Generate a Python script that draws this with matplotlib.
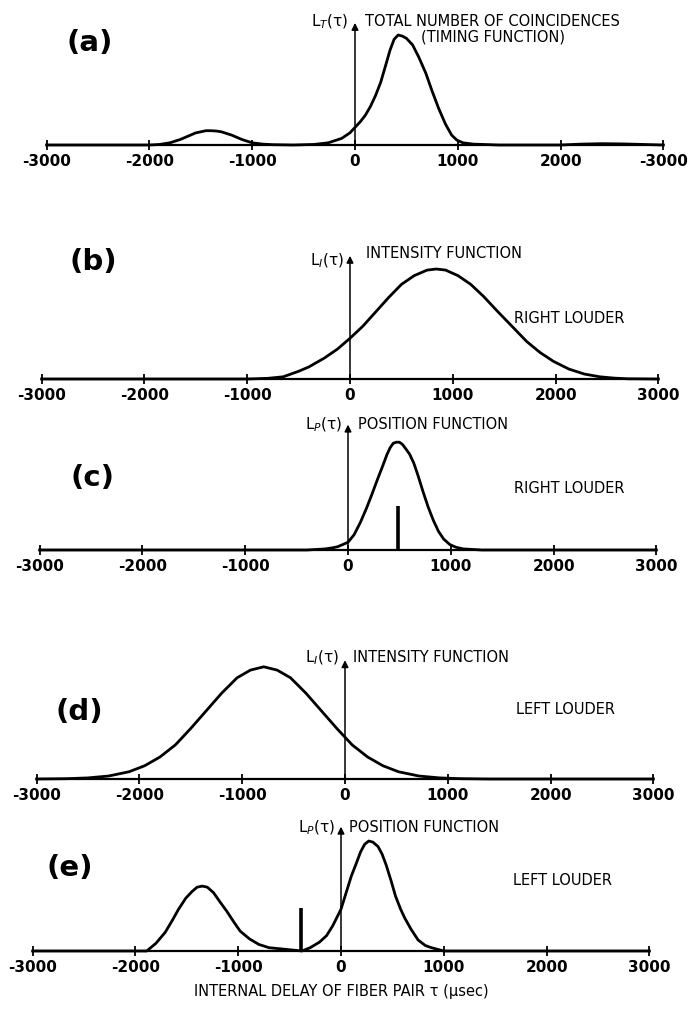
import matplotlib
matplotlib.use('Agg')
import matplotlib.pyplot as plt

# internal delay axis (usec)
ticks = [-3000, -2000, -1000, 0, 1000, 2000, 3000]
tick_labels_a = ['-3000', '-2000', '-1000', '0', '1000', '2000', '-3000']
tick_labels = ['-3000', '-2000', '-1000', '0', '1000', '2000', '3000']

# (a) timing function
x_a = [-3000, -2000, -1900, -1800, -1750, -1700, -1650, -1600, -1550, -1500,
       -1450, -1400, -1350, -1300, -1250, -1200, -1150, -1100, -1050, -1000,
       -900, -800, -600, -400, -260, -130, -50, 0, 50, 100,
       150, 200, 250, 300, 340, 380, 420, 460, 500, 560,
       620, 690, 750, 815, 880, 940, 990, 1050, 1150, 1400,
       2000, 2200, 2400, 2600, 2800, 3000]
y_a = [0, 0, 0.005, 0.02, 0.035, 0.05, 0.07, 0.09, 0.11, 0.12,
       0.13, 0.13, 0.127, 0.12, 0.105, 0.09, 0.07, 0.05, 0.035, 0.02,
       0.008, 0.003, 0, 0.005, 0.02, 0.06, 0.11, 0.16, 0.21, 0.27,
       0.35, 0.45, 0.57, 0.73, 0.86, 0.96, 1.0, 0.99, 0.97, 0.91,
       0.8, 0.65, 0.49, 0.33, 0.19, 0.09, 0.045, 0.02, 0.008, 0,
       0, 0.008, 0.012, 0.01, 0.005, 0]

# (b) intensity function, right louder
x_b = [-3000, -1000, -800, -650, -500, -400, -250, -125, 0, 125,
       250, 375, 500, 625, 750, 840, 930, 1050, 1175, 1300,
       1430, 1575, 1720, 1850, 1980, 2130, 2280, 2430, 2570, 2700,
       3000]
y_b = [0, 0, 0.006, 0.02, 0.07, 0.11, 0.19, 0.27, 0.37, 0.48,
       0.61, 0.74, 0.86, 0.94, 0.99, 1.0, 0.99, 0.94, 0.86, 0.75,
       0.62, 0.48, 0.34, 0.24, 0.16, 0.09, 0.045, 0.02, 0.008, 0.002,
       0]

# (c) position function, right louder
x_c = [-3000, -400, -220, -150, -100, -50, 0, 60, 120, 180,
       230, 290, 340, 380, 410, 440, 470, 500, 530, 570,
       600, 640, 680, 730, 780, 830, 880, 930, 990, 1050,
       1120, 1300, 3000]
y_c = [0, 0, 0.01, 0.02, 0.03, 0.05, 0.07, 0.14, 0.25, 0.38,
       0.5, 0.65, 0.77, 0.87, 0.93, 0.97, 0.98, 0.98, 0.96, 0.91,
       0.87, 0.79, 0.68, 0.53, 0.39, 0.27, 0.17, 0.1, 0.05, 0.025,
       0.01, 0, 0]

# (d) intensity function, left louder
x_d = [-3000, -2700, -2500, -2300, -2100, -1950, -1800, -1650, -1500, -1350,
       -1200, -1050, -920, -790, -660, -530, -380, -230, -80, 0,
       70, 220, 370, 520, 720, 920, 1120, 1400, 3000]
y_d = [0, 0.003, 0.01, 0.027, 0.066, 0.12, 0.2, 0.31, 0.46, 0.62,
       0.78, 0.92, 0.99, 1.02, 0.99, 0.92, 0.78, 0.62, 0.46, 0.38,
       0.31, 0.2, 0.12, 0.066, 0.027, 0.01, 0.003, 0, 0]

# (e) position function, left louder
x_e = [-3000, -1890, -1800, -1710, -1640, -1580, -1510, -1450, -1400, -1350,
       -1300, -1240, -1180, -1110, -1040, -980, -890, -800, -700, -590,
       -380, -300, -210, -140, -80, 0, 50, 100, 150, 190,
       230, 270, 310, 360, 400, 440, 490, 530, 580, 620,
       680, 750, 820, 880, 1000, 3000]
y_e = [0, 0, 0.07, 0.17, 0.28, 0.38, 0.48, 0.54, 0.58, 0.59,
       0.58, 0.53, 0.45, 0.36, 0.26, 0.18, 0.11, 0.06, 0.03, 0.02,
       0, 0.03, 0.08, 0.14, 0.23, 0.38, 0.53, 0.68, 0.8, 0.9,
       0.97, 1.0, 0.99, 0.95, 0.88, 0.78, 0.63, 0.5, 0.38, 0.3,
       0.2, 0.1, 0.05, 0.03, 0, 0]

# centroid markers of the position functions
spike_c = (490, 0.4)
spike_e = (-390, 0.39)

W, H = 690, 1012
PX = 102.8     # pixels per 1000 usec
UNIT = 110     # pixels per unit height
YLO, YHI = -0.45, 1.25

fig = plt.figure(figsize=(W / 100, H / 100), dpi=100)

# panel layout: zero position (px), baseline (px), letter, curve, annotations
panels = [
    dict(x0=355, base=146, tag='(a)', tag_xy=(-2580, 0.94), x=x_a, y=y_a,
         top=1.11, lab='L$_T$(τ)', lab_y=1.13,
         title=[('TOTAL NUMBER OF COINCIDENCES', 100, 1.13),
                ('(TIMING FUNCTION)', 645, 0.99)],
         side=None, ticklabels=tick_labels_a, spike=None),
    dict(x0=350, base=380, tag='(b)', tag_xy=(-2500, 1.07), x=x_b, y=y_b,
         top=1.12, lab='L$_I$(τ)', lab_y=1.08,
         title=[('INTENSITY FUNCTION', 155, 1.15)],
         side=('RIGHT LOUDER', 1600, 0.56), ticklabels=tick_labels, spike=None),
    dict(x0=348, base=551, tag='(c)', tag_xy=(-2490, 0.66), x=x_c, y=y_c,
         top=1.14, lab='L$_P$(τ)', lab_y=1.15,
         title=[('POSITION FUNCTION', 100, 1.15)],
         side=('RIGHT LOUDER', 1610, 0.57), ticklabels=tick_labels, spike=spike_c),
    dict(x0=345, base=780, tag='(d)', tag_xy=(-2580, 0.62), x=x_d, y=y_d,
         top=1.08, lab='L$_I$(τ)', lab_y=1.11,
         title=[('INTENSITY FUNCTION', 80, 1.11)],
         side=('LEFT LOUDER', 1660, 0.64), ticklabels=tick_labels, spike=None),
    dict(x0=341, base=952, tag='(e)', tag_xy=(-2640, 0.76), x=x_e, y=y_e,
         top=1.13, lab='L$_P$(τ)', lab_y=1.13,
         title=[('POSITION FUNCTION', 80, 1.13)],
         side=('LEFT LOUDER', 1670, 0.65), ticklabels=tick_labels, spike=spike_e),
]

for p in panels:
    left = (p['x0'] - 3 * PX) / W
    bottom = 1 - (p['base'] - YLO * UNIT) / H
    ax = fig.add_axes([left, bottom, 6 * PX / W, (YHI - YLO) * UNIT / H])
    ax.patch.set_visible(False)
    ax.set_xlim(-3000, 3000)
    ax.set_ylim(YLO, YHI)

    for s in ['left', 'right', 'top']:
        ax.spines[s].set_visible(False)
    ax.spines['bottom'].set_position(('data', 0))
    ax.spines['bottom'].set_linewidth(1.6)
    ax.set_yticks([])
    ax.set_xticks(ticks)
    ax.set_xticklabels(p['ticklabels'], fontsize=11, fontweight='bold')
    ax.tick_params(axis='x', direction='inout', length=7, width=1.3, pad=2)

    ax.plot(p['x'], p['y'], color='black', lw=2.0, solid_joinstyle='round',
            clip_on=False)
    if p['spike'] is not None:
        sx, sh = p['spike']
        ax.vlines(sx, 0, sh, color='black', lw=2.6)

    # vertical axis with arrow at tau = 0
    ax.annotate('', xy=(0, p['top']), xytext=(0, 0),
                arrowprops=dict(arrowstyle='-|>', color='black', lw=1.1,
                                mutation_scale=10, shrinkA=0, shrinkB=0))
    ax.text(-60, p['lab_y'], p['lab'], ha='right', va='center', fontsize=11)
    for txt, tx, ty in p['title']:
        ax.text(tx, ty, txt, ha='left', va='center', fontsize=10.5)
    if p['side'] is not None:
        txt, tx, ty = p['side']
        ax.text(tx, ty, txt, ha='left', va='center', fontsize=10.5)
    ax.text(p['tag_xy'][0], p['tag_xy'][1], p['tag'], ha='center', va='center',
            fontsize=21, fontweight='bold')

    last = ax

last.text(0, -0.36, 'INTERNAL DELAY OF FIBER PAIR τ (μsec)', ha='center',
          va='center', fontsize=10.5)

fig.savefig('out.png', dpi=100, facecolor='white')
